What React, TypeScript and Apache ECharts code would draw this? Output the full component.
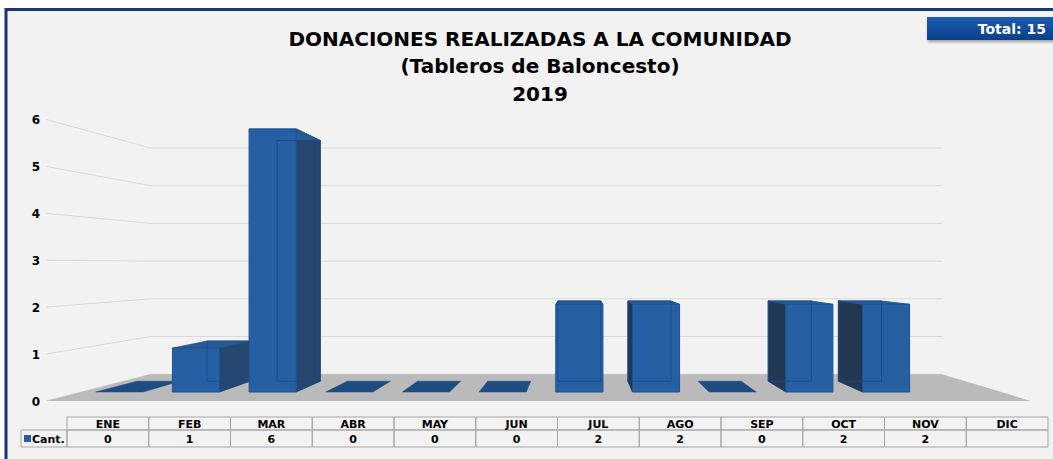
import React, { useEffect, useRef } from 'react';
import * as echarts from 'echarts';

const months = ['ENE', 'FEB', 'MAR', 'ABR', 'MAY', 'JUN', 'JUL', 'AGO', 'SEP', 'OCT', 'NOV', 'DIC'];
const cant: (number | null)[] = [0, 1, 6, 0, 0, 0, 2, 2, 0, 2, 2, null];
const yTicks = [0, 1, 2, 3, 4, 5, 6];
const titleLines = ['DONACIONES REALIZADAS A LA COMUNIDAD', '(Tableros de Baloncesto)', '2019'];
const seriesName = 'Cant.';
const totalLabel = 'Total:';

const FONT = '"DejaVu Sans", Verdana, sans-serif';
// perspective parameters (vanishing point in data space, depth factors)
const VP_CAT = 6;
const VP_VAL = 2.9;
const K_BACK = 0.915;
const K_WALL = 0.86;
const K_FRONT = 1.07;

type P = number[];
function proj(p: P, vp: P, k: number): P {
  return [vp[0] + k * (p[0] - vp[0]), vp[1] + k * (p[1] - vp[1])];
}

function wallItem(params: any, api: any) {
  const v = api.value(1);
  const cs = params.coordSys;
  const vp = api.coord([VP_CAT, VP_VAL]);
  const y = api.coord([0, v])[1];
  const L = [cs.x, y];
  const R = [cs.x + cs.width, y];
  const bL = proj(L, vp, K_WALL);
  const bR = proj(R, vp, K_WALL);
  const fL = proj(L, vp, K_FRONT);
  return {
    type: 'group',
    children: [
      { type: 'line', shape: { x1: bL[0], y1: bL[1], x2: bR[0], y2: bR[1] }, style: { stroke: '#d9d9d9', lineWidth: 1 } },
      { type: 'line', shape: { x1: fL[0], y1: fL[1], x2: bL[0], y2: bL[1] }, style: { stroke: '#d9d9d9', lineWidth: 1 } },
      {
        type: 'text',
        x: fL[0] - 6,
        y: fL[1] + 1,
        style: { text: String(v), textAlign: 'right', textVerticalAlign: 'middle', font: 'bold 12px ' + FONT, fill: '#000' },
      },
    ],
  };
}

function floorItem(params: any, api: any) {
  const cs = params.coordSys;
  const vp = api.coord([VP_CAT, VP_VAL]);
  const y = api.coord([0, 0])[1];
  const L = [cs.x, y];
  const R = [cs.x + cs.width, y];
  const pts = [proj(L, vp, K_FRONT), proj(R, vp, K_FRONT), proj(R, vp, K_WALL), proj(L, vp, K_WALL)];
  return { type: 'polygon', shape: { points: pts }, style: { fill: '#bababa' } };
}

function barItem(params: any, api: any) {
  const i = api.value(0);
  const v = api.value(1);
  const vp = api.coord([VP_CAT, VP_VAL]);
  const base = api.coord([i, 0]);
  const top = api.coord([i, v]);
  const w = api.size([1, 0])[0] * 0.615;
  const FL = [base[0] - w / 2, base[1]];
  const FR = [base[0] + w / 2, base[1]];
  const TL = [base[0] - w / 2, top[1]];
  const TR = [base[0] + w / 2, top[1]];
  const bFL = proj(FL, vp, K_BACK);
  const bFR = proj(FR, vp, K_BACK);
  const bTL = proj(TL, vp, K_BACK);
  const bTR = proj(TR, vp, K_BACK);
  if (v === 0) {
    return {
      type: 'polygon',
      shape: { points: [FL, FR, bFR, bFL] },
      style: { fill: '#1f4c80', stroke: '#1b4a80', lineWidth: 0.5 },
    };
  }
  const children: any[] = [];
  if (FR[0] < vp[0] - 2) {
    children.push({ type: 'polygon', shape: { points: [FR, TR, bTR, bFR] }, style: { fill: '#24466f', stroke: '#1c4474', lineWidth: 0.8 } });
  } else if (FL[0] > vp[0] + 2) {
    children.push({ type: 'polygon', shape: { points: [FL, TL, bTL, bFL] }, style: { fill: '#233852', stroke: '#1c3a66', lineWidth: 0.8 } });
  }
  children.push({ type: 'polygon', shape: { points: [TL, TR, bTR, bTL] }, style: { fill: '#285a94', stroke: '#1d4f8d', lineWidth: 0.8 } });
  children.push({
    type: 'rect',
    shape: { x: TL[0], y: TL[1], width: w, height: FL[1] - TL[1] },
    style: { fill: '#2660a3', stroke: '#1d5293', lineWidth: 1 },
  });
  children.push({
    type: 'polygon',
    shape: { points: [bTL, bTR, bFR, bFL] },
    style: { fill: 'none', stroke: 'rgba(22,72,140,0.8)', lineWidth: 1 },
  });
  return { type: 'group', children };
}

function buildTable(): any[] {
  const x0 = 67;
  const cw = 81.75;
  const yH = 417;
  const hH = 13;
  const yV = 430;
  const hV = 17;
  const border = '#a6a6a6';
  const els: any[] = [];
  months.forEach((m, i) => {
    const x = x0 + i * cw;
    els.push({ type: 'rect', shape: { x, y: yH, width: cw, height: hH }, style: { fill: 'none', stroke: border, lineWidth: 1 } });
    els.push({ type: 'rect', shape: { x, y: yV, width: cw, height: hV }, style: { fill: 'none', stroke: border, lineWidth: 1 } });
    els.push({
      type: 'text',
      style: { text: m, x: x + cw / 2, y: yH + hH / 2 + 0.5, textAlign: 'center', textVerticalAlign: 'middle', font: 'bold 11px ' + FONT, fill: '#000' },
    });
    const val = cant[i];
    if (val !== null) {
      els.push({
        type: 'text',
        style: { text: String(val), x: x + cw / 2, y: yV + hV / 2 + 0.5, textAlign: 'center', textVerticalAlign: 'middle', font: 'bold 11px ' + FONT, fill: '#000' },
      });
    }
  });
  els.push({ type: 'rect', shape: { x: 21, y: yV, width: x0 - 21, height: hV }, style: { fill: 'none', stroke: border, lineWidth: 1 } });
  els.push({ type: 'rect', shape: { x: 24, y: yV + 5, width: 7, height: 7 }, style: { fill: '#2660a3' } });
  els.push({
    type: 'text',
    style: { text: seriesName, x: 32, y: yV + hV / 2 + 0.5, textAlign: 'left', textVerticalAlign: 'middle', font: 'bold 11px ' + FONT, fill: '#000' },
  });
  return els;
}

export default function App() {
  const ref = useRef<HTMLDivElement>(null);
  useEffect(() => {
    if (!ref.current) return;
    const chart = echarts.init(ref.current, undefined, { renderer: 'svg' });
    const total = cant.reduce((s: number, v) => s + (v ?? 0), 0);
    const option: any = {
      animation: false,
      backgroundColor: '#ffffff',
      title: {
        text: titleLines.join('\n'),
        left: 535,
        textAlign: 'center',
        top: 20,
        textStyle: { fontFamily: FONT, fontWeight: 'bold', fontSize: 20, lineHeight: 27.5, color: '#000' },
      },
      grid: { left: 81, top: 129, width: 920, height: 263 },
      xAxis: { type: 'category', data: months, show: false },
      yAxis: { type: 'value', min: 0, max: 6, interval: 1, show: false },
      graphic: [
        {
          type: 'rect',
          z: -10,
          shape: { x: 6, y: 9.5, width: 1100, height: 500 },
          style: { fill: '#f2f2f2', stroke: '#1b3670', lineWidth: 3 },
        },
        {
          type: 'rect',
          shape: { x: 927, y: 17, width: 140, height: 23 },
          style: {
            fill: new echarts.graphic.LinearGradient(0, 0, 0, 1, [
              { offset: 0, color: '#1d5cb0' },
              { offset: 1, color: '#083f8a' },
            ]),
            shadowBlur: 3,
            shadowOffsetX: 1,
            shadowOffsetY: 2,
            shadowColor: 'rgba(0,0,0,0.35)',
          },
        },
        {
          type: 'text',
          style: {
            text: totalLabel + ' ' + total,
            x: 1046,
            y: 29,
            textAlign: 'right',
            textVerticalAlign: 'middle',
            font: 'bold 14px ' + FONT,
            fill: '#ffffff',
          },
        },
        ...buildTable(),
      ],
      series: [
        {
          type: 'custom',
          name: 'wall',
          renderItem: wallItem,
          data: yTicks.map((v) => [0, v]),
          silent: true,
          z: 1,
        },
        {
          type: 'custom',
          name: 'floor',
          renderItem: floorItem,
          data: [[0, 0]],
          silent: true,
          z: 2,
        },
        {
          type: 'custom',
          name: seriesName,
          renderItem: barItem,
          data: cant.map((v, i) => (v === null ? null : [i, v])).filter((d) => d !== null),
          z: 3,
        },
      ],
    };
    chart.setOption(option);
    return () => chart.dispose();
  }, []);
  return <div ref={ref} style={{ position: 'absolute', left: 0, top: 0, width: 1053, height: 459 }} />;
}
